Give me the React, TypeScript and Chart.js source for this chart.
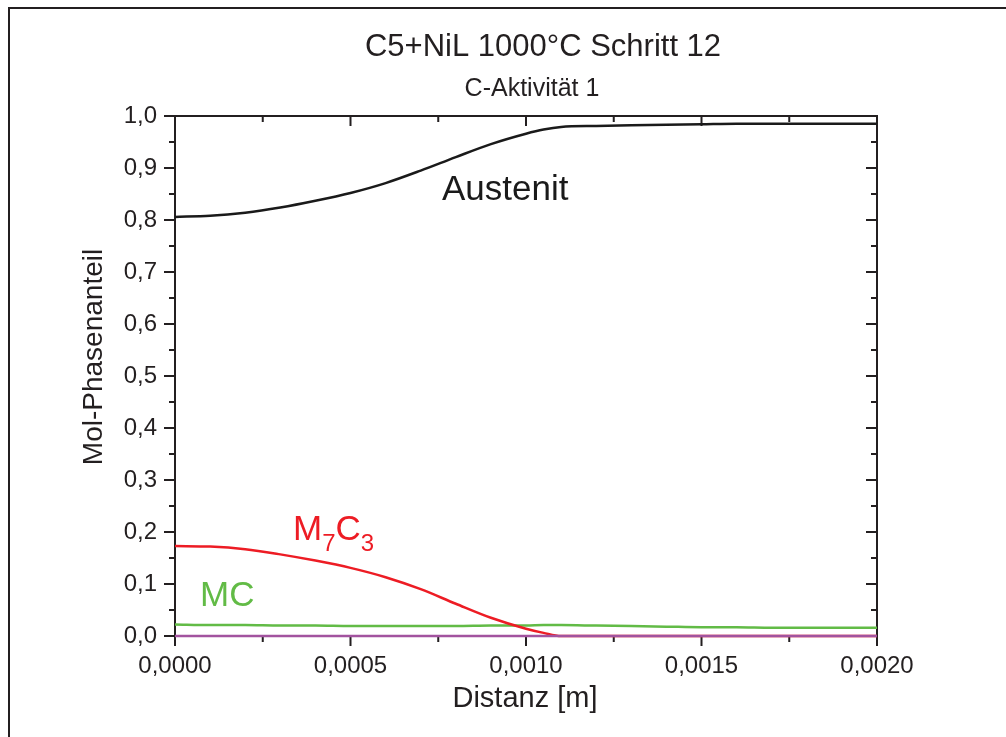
import React, { useEffect, useRef } from "react";
import { Chart, registerables } from "chart.js";

Chart.register(...registerables);

const distance = [0, 0.0001, 0.0002, 0.0003, 0.0004, 0.0005, 0.0006, 0.0007, 0.0008, 0.0009, 0.001, 0.00105, 0.0011, 0.0012, 0.0013, 0.0014, 0.0015, 0.0016, 0.0017, 0.0018, 0.0019, 0.002];
const austenit = [0.806, 0.808, 0.814, 0.824, 0.837, 0.852, 0.871, 0.895, 0.921, 0.946, 0.966, 0.974, 0.979, 0.981, 0.982, 0.983, 0.984, 0.985, 0.985, 0.985, 0.985, 0.985];
const m7c3 = [0.173, 0.172, 0.167, 0.157, 0.145, 0.131, 0.113, 0.09, 0.062, 0.035, 0.014, 0.006, 0.0, 0, 0, 0, 0, 0, 0, 0, 0, 0];
const mc = [0.022, 0.021, 0.021, 0.02, 0.02, 0.019, 0.019, 0.019, 0.019, 0.02, 0.02, 0.021, 0.021, 0.02, 0.019, 0.018, 0.017, 0.017, 0.016, 0.016, 0.016, 0.016];
const other = [0, 0, 0, 0, 0, 0, 0, 0, 0, 0, 0, 0, 0, 0, 0, 0, 0, 0, 0, 0, 0, 0];

const xTickValues = [0, 0.0005, 0.001, 0.0015, 0.002];
const yTickValues = [0, 0.1, 0.2, 0.3, 0.4, 0.5, 0.6, 0.7, 0.8, 0.9, 1.0];

const titleText = "C5+NiL 1000°C Schritt 12";
const subtitleText = "C-Aktivität 1";
const xTitle = "Distanz [m]";
const yTitle = "Mol-Phasenanteil";

const FONT = "'Liberation Sans', Arial, Helvetica, sans-serif";
const AXIS = "#231f20";

const toPts = (ys: number[]) => ys.map((y, i) => ({ x: distance[i], y }));

const decorPlugin = {
  id: "decor",
  beforeDatasetsDraw(chart: any) {
    const { ctx, chartArea: a, scales } = chart;
    const xs = scales.x;
    const ys = scales.y;
    ctx.save();
    // outer frame
    ctx.strokeStyle = AXIS;
    ctx.lineWidth = 2;
    ctx.beginPath();
    ctx.moveTo(9, 740);
    ctx.lineTo(9, 8);
    ctx.lineTo(1010, 8);
    ctx.stroke();
    // plot frame
    ctx.lineWidth = 2;
    ctx.strokeRect(a.left, a.top, a.right - a.left, a.bottom - a.top);
    // ticks
    ctx.beginPath();
    for (let i = 0; i <= 8; i++) {
      const v = i * 0.00025;
      const px = xs.getPixelForValue(v);
      const major = i % 2 === 0;
      ctx.moveTo(px, a.bottom);
      ctx.lineTo(px, a.bottom + (major ? 10 : 6));
      ctx.moveTo(px, a.top);
      ctx.lineTo(px, a.top + (major ? 10 : 6));
    }
    for (let i = 0; i <= 20; i++) {
      const v = i * 0.05;
      const py = ys.getPixelForValue(v);
      const major = i % 2 === 0;
      ctx.moveTo(a.left, py);
      ctx.lineTo(a.left - (major ? 11 : 6), py);
      ctx.moveTo(a.right, py);
      ctx.lineTo(a.right - (major ? 11 : 6), py);
    }
    ctx.stroke();
    ctx.restore();
  },
  afterDraw(chart: any) {
    const { ctx } = chart;
    ctx.save();
    ctx.textBaseline = "alphabetic";
    ctx.fillStyle = AXIS;
    ctx.textAlign = "center";
    ctx.font = `31px ${FONT}`;
    ctx.fillText(titleText, 543, 56);
    ctx.font = `25px ${FONT}`;
    ctx.fillText(subtitleText, 532, 96);
    ctx.font = `29px ${FONT}`;
    ctx.fillText(xTitle, 525, 707);
    ctx.save();
    ctx.translate(102, 357);
    ctx.rotate(-Math.PI / 2);
    ctx.font = `28px ${FONT}`;
    ctx.fillText(yTitle, 0, 0);
    ctx.restore();
    // series labels
    ctx.textAlign = "left";
    ctx.font = `35px ${FONT}`;
    ctx.fillStyle = "#1a1a1a";
    ctx.fillText("Austenit", 442, 200);
    ctx.fillStyle = "#ed1c24";
    let x = 293;
    ctx.font = `35px ${FONT}`;
    ctx.fillText("M", x, 540);
    x += ctx.measureText("M").width;
    ctx.font = `24px ${FONT}`;
    ctx.fillText("7", x, 551);
    x += ctx.measureText("7").width;
    ctx.font = `35px ${FONT}`;
    ctx.fillText("C", x, 540);
    x += ctx.measureText("C").width;
    ctx.font = `24px ${FONT}`;
    ctx.fillText("3", x, 551);
    ctx.fillStyle = "#62bb46";
    ctx.font = `35px ${FONT}`;
    ctx.fillText("MC", 200, 606);
    ctx.restore();
  },
};

export default function App() {
  const ref = useRef<HTMLCanvasElement>(null);
  useEffect(() => {
    if (!ref.current) return;
    const common = { pointRadius: 0, borderWidth: 2.5, cubicInterpolationMode: "monotone" as const, clip: false as any, fill: false };
    const chart = new Chart(ref.current, {
      type: "line",
      data: {
        datasets: [
          { label: "Other", data: toPts(other), borderColor: "#a2539f", ...common },
          { label: "Austenit", data: toPts(austenit), borderColor: "#1a1a1a", ...common },
          { label: "M7C3", data: toPts(m7c3), borderColor: "#ed1c24", ...common },
          { label: "MC", data: toPts(mc), borderColor: "#62bb46", ...common },
        ],
      },
      options: {
        animation: false,
        responsive: false,
        maintainAspectRatio: false,
        layout: { padding: { left: 0, top: 116, right: 129, bottom: 0 } },
        plugins: { legend: { display: false }, tooltip: { enabled: false }, title: { display: false } },
        scales: {
          x: {
            type: "linear",
            min: 0,
            max: 0.002,
            afterFit: (s: any) => { s.height = 101; },
            afterBuildTicks: (s: any) => { s.ticks = xTickValues.map((v) => ({ value: v })); },
            grid: { display: false, drawTicks: false },
            border: { display: false },
            ticks: {
              padding: 16,
              color: AXIS,
              font: { family: FONT, size: 24 },
              maxRotation: 0,
              callback: (v: any) => Number(v).toFixed(4).replace(".", ","),
            },
          },
          y: {
            type: "linear",
            min: 0,
            max: 1,
            afterFit: (s: any) => { s.width = 175; },
            afterBuildTicks: (s: any) => { s.ticks = yTickValues.map((v) => ({ value: v })); },
            grid: { display: false, drawTicks: false },
            border: { display: false },
            ticks: {
              padding: 18,
              color: AXIS,
              font: { family: FONT, size: 24 },
              callback: (v: any) => Number(v).toFixed(1).replace(".", ","),
            },
          },
        },
      },
      plugins: [decorPlugin],
    });
    return () => chart.destroy();
  }, []);
  return (
    <div style={{ position: "fixed", left: 0, top: 0, width: 1006, height: 737, background: "#fff" }}>
      <canvas ref={ref} width={1006} height={737} style={{ width: 1006, height: 737, display: "block" }} />
    </div>
  );
}
